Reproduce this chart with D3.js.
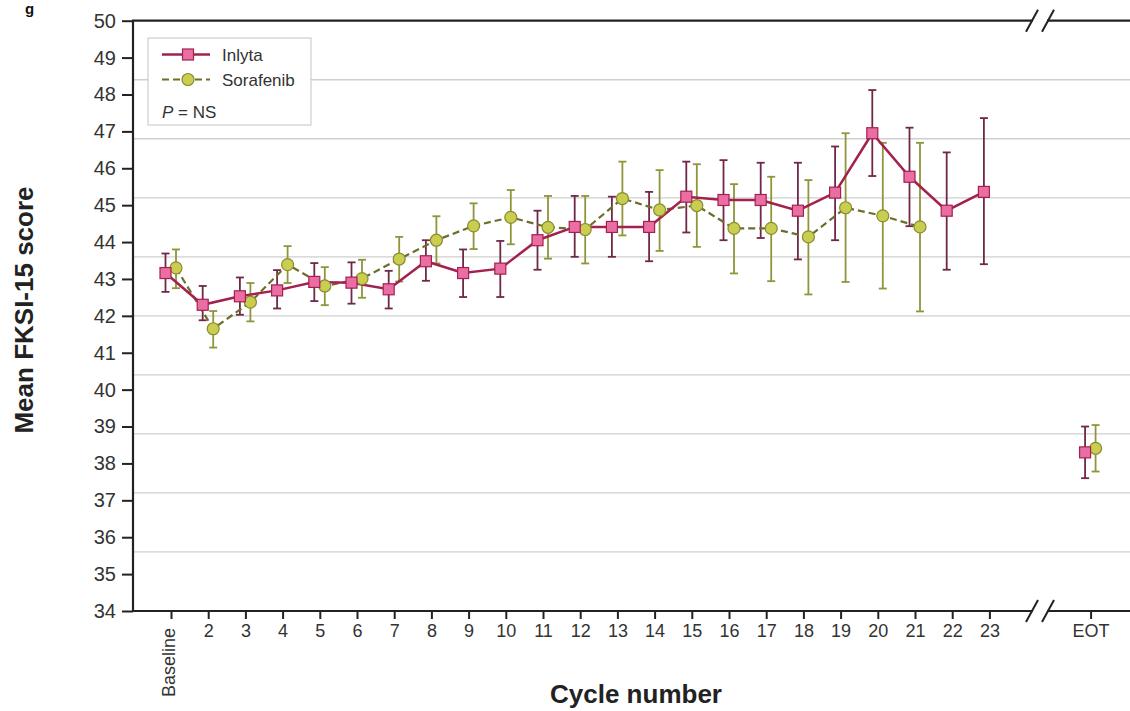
<!DOCTYPE html>
<html>
<head>
<meta charset="utf-8">
<script src="https://cdn.jsdelivr.net/npm/d3@7"></script>
<style>
  html, body { margin: 0; padding: 0; background: #fff; }
  svg { display: block; font-family: "Liberation Sans", Arial, sans-serif; }
</style>
</head>
<body>
<svg id="chart" width="1130" height="711"></svg>
<script>
// Cycle categories (Baseline, then cycles 2..23), plus the end-of-treatment slot
const categories = ["Baseline","2","3","4","5","6","7","8","9","10","11","12","13","14","15","16","17","18","19","20","21","22","23"];
const eotLabel = "EOT";

// Inlyta: mean FKSI-15 score and error-bar limits per cycle
const inlytaMean = [43.16,42.30,42.53,42.69,42.92,42.90,42.72,43.48,43.16,43.28,44.05,44.41,44.41,44.41,45.23,45.14,45.14,44.85,45.34,46.95,45.77,44.85,45.36];
const inlytaLow  = [42.65,41.88,42.03,42.20,42.40,42.33,42.20,42.95,42.51,42.51,43.25,43.60,43.60,43.48,44.26,44.05,44.11,43.53,44.05,45.79,44.43,43.25,43.40];
const inlytaHigh = [43.69,42.81,43.04,43.24,43.43,43.45,43.22,44.05,43.80,44.03,44.85,45.25,45.23,45.36,46.18,46.22,46.15,46.15,46.59,48.12,47.10,46.43,47.36];

// Sorafenib: data through cycle 21
const sorafenibMean = [43.30,41.65,42.37,43.39,42.81,43.01,43.54,44.05,44.44,44.67,44.40,44.34,45.18,44.87,44.99,44.37,44.37,44.14,44.93,44.71,44.41];
const sorafenibLow  = [42.75,41.14,41.85,42.89,42.29,42.49,42.93,43.42,43.81,43.94,43.55,43.42,44.18,43.76,43.87,43.15,42.94,42.58,42.92,42.74,42.12];
const sorafenibHigh = [43.80,42.13,42.89,43.89,43.32,43.52,44.14,44.70,45.05,45.41,45.25,45.25,46.18,45.95,46.11,45.57,45.77,45.68,46.95,46.69,46.69];

// End-of-treatment values [mean, low, high]
const inlytaEOT = [38.30, 37.60, 39.00];
const sorafenibEOT = [38.41, 37.78, 39.04];

// Y ticks and grid
const yTicks = d3.range(34, 51, 1);
const gridValues = d3.range(0, 11).map(i => 34 + i * 1.6);

// Slot positions on the category axis (EOT sits past an axis break)
const eotSlot = 24.72;
const breakSlot = 23.36;

(function draw() {
  const svg = d3.select("#chart");
  const W = 1130, H = 711;
  const plotLeft = 133, plotTop = 20.7, plotBottom = 611;

  const x = d3.scaleLinear().domain([0, 22]).range([171, 989.4]);
  const y = d3.scaleLinear().domain([34, 50]).range([plotBottom, plotTop]);

  const colInlyta = "#a3214f", colInlytaFill = "#ea6ea3", colInlytaErr = "#6f2848";
  const colSora = "#6d6d2c", colSoraFill = "#c9cd50", colSoraStroke = "#8a8d2e", colSoraErr = "#8f9539";
  const offI = -5.5, offS = 5;

  svg.append("rect").attr("width", W).attr("height", H).attr("fill", "#fff");

  // Panel letter in the top-left corner
  svg.append("text").attr("x", 25).attr("y", 14).attr("font-size", 15).attr("font-weight", "bold")
    .attr("fill", "#111").text("g");

  // Grid lines
  svg.append("g").selectAll("line").data(gridValues.slice(1, -1)).join("line")
    .attr("x1", plotLeft).attr("x2", W)
    .attr("y1", d => y(d)).attr("y2", d => y(d))
    .attr("stroke", "#cfcfcf").attr("stroke-width", 1.3);

  // Axes
  const yAxis = d3.axisLeft(y).tickValues(yTicks).tickSize(11).tickPadding(6).tickFormat(d3.format("d"));
  const gy = svg.append("g").attr("transform", `translate(${plotLeft},0)`).call(yAxis);
  gy.select(".domain").remove();
  gy.selectAll(".tick line").attr("stroke", "#222").attr("stroke-width", 2);
  gy.selectAll(".tick text").attr("font-size", 20).attr("fill", "#333").attr("font-family", "Liberation Sans, Arial, sans-serif");

  const xTickVals = categories.map((c, i) => i).concat([eotSlot]);
  const xLabels = categories.concat([eotLabel]);
  const xAxis = d3.axisBottom(x).tickValues(xTickVals).tickSize(8).tickPadding(5)
    .tickFormat((d, i) => xLabels[i]);
  const gx = svg.append("g").attr("transform", `translate(0,${plotBottom})`).call(xAxis);
  gx.select(".domain").remove();
  gx.selectAll(".tick line").attr("stroke", "#222").attr("stroke-width", 2);
  gx.selectAll(".tick text").attr("font-size", 18).attr("fill", "#333")
    .attr("font-family", "Liberation Sans, Arial, sans-serif");
  gx.selectAll(".tick text").filter((d, i) => i === 0)
    .attr("transform", "rotate(-90)").attr("text-anchor", "end")
    .attr("x", -17).attr("y", -3).attr("dy", "0.35em");

  // Frame lines (left, top, bottom) with breaks before EOT
  svg.append("line").attr("x1", plotLeft).attr("x2", plotLeft).attr("y1", plotTop).attr("y2", plotBottom + 1)
    .attr("stroke", "#222").attr("stroke-width", 2.2);
  [plotTop, plotBottom].forEach(yy => {
    svg.append("line").attr("x1", plotLeft - 1).attr("x2", W).attr("y1", yy).attr("y2", yy)
      .attr("stroke", "#222").attr("stroke-width", 2.2);
    const bx = x(breakSlot);
    svg.append("rect").attr("x", bx - 7).attr("y", yy - 3).attr("width", 14).attr("height", 6).attr("fill", "#fff");
    [-8, 8].forEach(o => {
      svg.append("line").attr("x1", bx + o - 6).attr("x2", bx + o + 6)
        .attr("y1", yy + 11).attr("y2", yy - 11)
        .attr("stroke", "#222").attr("stroke-width", 2);
    });
  });

  // Build point records
  const inlyta = inlytaMean.map((m, i) => ({ s: i, m, lo: inlytaLow[i], hi: inlytaHigh[i] }));
  const sora = sorafenibMean.map((m, i) => ({ s: i, m, lo: sorafenibLow[i], hi: sorafenibHigh[i] }));
  const inlytaE = { s: eotSlot, m: inlytaEOT[0], lo: inlytaEOT[1], hi: inlytaEOT[2] };
  const soraE = { s: eotSlot, m: sorafenibEOT[0], lo: sorafenibEOT[1], hi: sorafenibEOT[2] };

  function errorBars(data, off, color) {
    const g = svg.append("g").attr("stroke", color).attr("stroke-width", 1.8);
    g.selectAll("line.v").data(data).join("line").attr("class", "v")
      .attr("x1", d => x(d.s) + off).attr("x2", d => x(d.s) + off)
      .attr("y1", d => y(d.lo)).attr("y2", d => y(d.hi));
    ["lo", "hi"].forEach(k => {
      g.selectAll("line.c" + k).data(data).join("line").attr("class", "c" + k)
        .attr("x1", d => x(d.s) + off - 4).attr("x2", d => x(d.s) + off + 4)
        .attr("y1", d => y(d[k])).attr("y2", d => y(d[k]));
    });
  }

  errorBars(sora.concat([soraE]), offS, colSoraErr);
  errorBars(inlyta.concat([inlytaE]), offI, colInlytaErr);

  const lineS = d3.line().x(d => x(d.s) + offS).y(d => y(d.m));
  const lineI = d3.line().x(d => x(d.s) + offI).y(d => y(d.m));

  svg.append("path").datum(sora).attr("d", lineS).attr("fill", "none")
    .attr("stroke", colSora).attr("stroke-width", 2.2).attr("stroke-dasharray", "7,4");
  svg.append("path").datum(inlyta).attr("d", lineI).attr("fill", "none")
    .attr("stroke", colInlyta).attr("stroke-width", 2.5);

  function squares(data, off) {
    svg.append("g").selectAll("rect").data(data).join("rect")
      .attr("x", d => x(d.s) + off - 5.5).attr("y", d => y(d.m) - 5.5)
      .attr("width", 11).attr("height", 11)
      .attr("fill", colInlytaFill).attr("stroke", colInlyta).attr("stroke-width", 1.2);
  }
  function circles(data, off) {
    svg.append("g").selectAll("circle").data(data).join("circle")
      .attr("cx", d => x(d.s) + off).attr("cy", d => y(d.m)).attr("r", 6)
      .attr("fill", colSoraFill).attr("stroke", colSoraStroke).attr("stroke-width", 1.2);
  }
  circles(sora.concat([soraE]), offS);
  squares(inlyta.concat([inlytaE]), offI);

  // Legend
  const lg = svg.append("g");
  lg.append("rect").attr("x", 148).attr("y", 38).attr("width", 163).attr("height", 87)
    .attr("fill", "#fff").attr("stroke", "#c4c4c4").attr("stroke-width", 1);
  lg.append("line").attr("x1", 162).attr("x2", 210).attr("y1", 54.5).attr("y2", 54.5)
    .attr("stroke", colInlyta).attr("stroke-width", 2.5);
  lg.append("rect").attr("x", 182.5).attr("y", 49).attr("width", 11).attr("height", 11)
    .attr("fill", colInlytaFill).attr("stroke", colInlyta).attr("stroke-width", 1.2);
  lg.append("line").attr("x1", 162).attr("x2", 210).attr("y1", 79.5).attr("y2", 79.5)
    .attr("stroke", colSora).attr("stroke-width", 2.2).attr("stroke-dasharray", "7,4");
  lg.append("circle").attr("cx", 188).attr("cy", 79.5).attr("r", 6)
    .attr("fill", colSoraFill).attr("stroke", colSoraStroke).attr("stroke-width", 1.2);
  lg.append("text").attr("x", 222).attr("y", 60.5).attr("font-size", 17).attr("fill", "#333").text("Inlyta");
  lg.append("text").attr("x", 222).attr("y", 85.5).attr("font-size", 17).attr("fill", "#333").text("Sorafenib");
  const pt = lg.append("text").attr("x", 162).attr("y", 118).attr("font-size", 17).attr("fill", "#333");
  pt.append("tspan").attr("font-style", "italic").text("P");
  pt.append("tspan").text(" = NS");

  // Axis titles
  svg.append("text").attr("transform", "translate(33,310) rotate(-90)")
    .attr("text-anchor", "middle").attr("font-size", 26).attr("font-weight", "bold")
    .attr("fill", "#222").text("Mean FKSI-15 score");
  svg.append("text").attr("x", 636).attr("y", 703)
    .attr("text-anchor", "middle").attr("font-size", 26).attr("font-weight", "bold")
    .attr("fill", "#222").text("Cycle number");
})();
</script>
</body>
</html>
